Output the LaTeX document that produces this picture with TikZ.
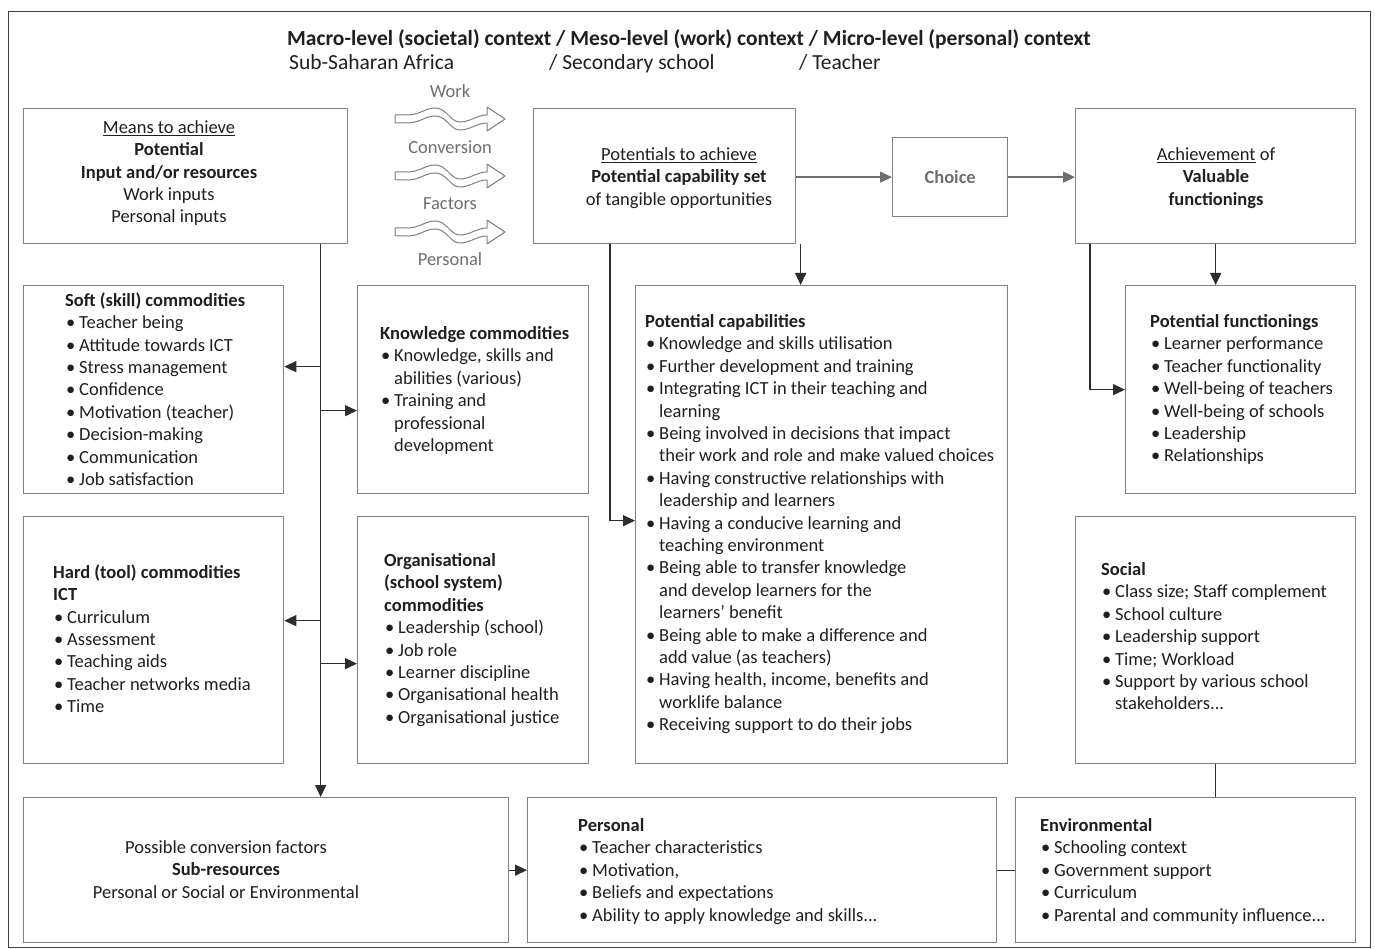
\documentclass[tikz,border=0pt]{standalone}
\usepackage{fontspec}
\setmainfont{Carlito}
\usetikzlibrary{arrows.meta,calc}
\definecolor{boxgray}{RGB}{128,128,128}
\definecolor{linegray}{RGB}{45,45,45}
\definecolor{softgray}{RGB}{110,110,110}
\newcommand\bl{\makebox[14pt][l]{\hspace{1pt}•}}
\newcommand\ct{\hspace*{14pt}}

\begin{document}
\begin{tikzpicture}[x=1pt,y=-1pt,
		box/.style={draw=boxgray,line width=1.3pt,anchor=north west,inner sep=0pt},
		txt/.style={anchor=north west,align=left,inner sep=0pt,font=\fontsize{18.5}{22.4}\selectfont,
			text=black!88,execute at begin node=\strut,yshift=-3.5pt},
		ctxt/.style={txt,anchor=north,align=center},
		lbl/.style={anchor=base,inner sep=0pt,font=\fontsize{18.5}{22.4}\selectfont,text=softgray},
		con/.style={draw=linegray,line width=1.3pt,-{Triangle[length=12pt,width=11pt]}},
		gcon/.style={con,draw=softgray,-{Triangle[length=12pt,width=11pt,fill=softgray]}},
		plain/.style={draw=linegray,line width=1.3pt},
		wave/.pic={\draw[boxgray,line width=1pt,fill=white,line join=round]
			(0,-4) -- (12,-4) .. controls (25,-4) and (30,-11) .. (40,-11)
			.. controls (52,-11) and (55,3) .. (65,3) .. controls (75,3) and (82,-4) .. (92,-4)
			-- (92,-12) -- (110,0) -- (92,12) -- (92,4)
			.. controls (82,4) and (75,11) .. (65,11) .. controls (55,11) and (52,-3) .. (40,-3)
			.. controls (30,-3) and (25,4) .. (12,4) -- (0,4) -- cycle;},
	]
	\useasboundingbox (0,0) rectangle (1375,949);
	\node[draw=black!75,line width=1.3pt,anchor=north west,inner sep=0pt,
		minimum width=1362pt,minimum height=936pt] (frame) at (8,11) {};

	% context heading
	\node[anchor=base,inner sep=0pt,font=\fontsize{21.5}{24}\bfseries,text=black!88] (ctx) at (689,45.5)
		{Macro-level (societal) context / Meso-level (work) context / Micro-level (personal) context};
	\node[anchor=base west,inner sep=0pt,font=\fontsize{21.5}{24}\selectfont,text=black!88] (ctxb) at (289,69.5)
		{\makebox[260pt][l]{Sub-Saharan Africa}\makebox[250pt][l]{/ Secondary school}/ Teacher};

	% boxes
	\node[box,minimum width=324pt,minimum height=135pt] (means) at (23,108) {};
	\node[box,minimum width=262pt,minimum height=135pt] (pot) at (533,108) {};
	\node[box,minimum width=115pt,minimum height=79pt] (choice) at (892,137) {};
	\node[box,minimum width=280pt,minimum height=135pt] (ach) at (1075,108) {};
	\node[box,minimum width=260pt,minimum height=208pt] (soft) at (23,285) {};
	\node[box,minimum width=231pt,minimum height=208pt] (know) at (357,285) {};
	\node[box,minimum width=372pt,minimum height=478pt] (caps) at (635,285) {};
	\node[box,minimum width=230pt,minimum height=208pt] (func) at (1125,285) {};
	\node[box,minimum width=260pt,minimum height=247pt] (hard) at (23,516) {};
	\node[box,minimum width=231pt,minimum height=247pt] (org) at (357,516) {};
	\node[box,minimum width=280pt,minimum height=247pt] (social) at (1075,516) {};
	\node[box,minimum width=485pt,minimum height=145pt] (conv) at (23,797) {};
	\node[box,minimum width=469pt,minimum height=145pt] (pers) at (527,797) {};
	\node[box,minimum width=340pt,minimum height=145pt] (env) at (1015,797) {};

	% work conversion factors
	\foreach \y/\name in {92/Work,148/Conversion,204/Factors,260/Personal}
		\node[lbl] (w\name) at (450,\y+6) {\name};
	\foreach \y in {119,176,232}
		\pic at (395,\y) {wave};

	% texts
	\node[ctxt] (meanstxt) at (169,116.8) {\underline{Means to achieve}\\\textbf{Potential}\\
		\textbf{Input and/or resources}\\Work inputs\\Personal inputs};
	\node[ctxt] (pottxt) at (679,143.8) {\underline{Potentials to achieve}\\
		\textbf{Potential capability set}\\of tangible opportunities};
	\node[lbl,anchor=center,font=\fontsize{18.5}{22.4}\bfseries] (choicetxt) at (choice) {Choice};
	\node[ctxt] (achtxt) at (1216,143.8) {\underline{Achievement} of\\\textbf{Valuable}\\\textbf{functionings}};
	\node[txt] (softtxt) at (65,288.8) {\textbf{Soft (skill) commodities}\\\bl Teacher being\\
		\bl Attitude towards ICT\\\bl Stress management\\\bl Confidence\\\bl Motivation (teacher)\\
		\bl Decision-making\\\bl Communication\\\bl Job satisfaction};
	\node[txt] (knowtxt) at (380,322.8) {\textbf{Knowledge commodities}\\\bl Knowledge, skills and\\
		\ct abilities (various)\\\bl Training and\\\ct professional\\\ct development};
	\node[txt] (capstxt) at (645,310.8) {\textbf{Potential capabilities}\\
		\bl Knowledge and skills utilisation\\\bl Further development and training\\
		\bl Integrating ICT in their teaching and\\\ct learning\\
		\bl Being involved in decisions that impact\\\ct their work and role and make valued choices\\
		\bl Having constructive relationships with\\\ct leadership and learners\\
		\bl Having a conducive learning and\\\ct teaching environment\\
		\bl Being able to transfer knowledge\\\ct and develop learners for the\\\ct learners' benefit\\
		\bl Being able to make a difference and\\\ct add value (as teachers)\\
		\bl Having health, income, benefits and\\\ct worklife balance\\
		\bl Receiving support to do their jobs};
	\node[txt] (functxt) at (1150,310.8) {\textbf{Potential functionings}\\\bl Learner performance\\
		\bl Teacher functionality\\\bl Well-being of teachers\\\bl Well-being of schools\\
		\bl Leadership\\\bl Relationships};
	\node[txt] (hardtxt) at (53,560.8) {\textbf{Hard (tool) commodities}\\\textbf{ICT}\\\bl Curriculum\\
		\bl Assessment\\\bl Teaching aids\\\bl Teacher networks media\\\bl Time};
	\node[txt] (orgtxt) at (384,549.8) {\textbf{Organisational}\\\textbf{(school system)}\\
		\textbf{commodities}\\\bl Leadership (school)\\\bl Job role\\\bl Learner discipline\\
		\bl Organisational health\\\bl Organisational justice};
	\node[txt] (socialtxt) at (1101,558.8) {\textbf{Social}\\\bl Class size; Staff complement\\
		\bl School culture\\\bl Leadership support\\\bl Time; Workload\\
		\bl Support by various school\\\ct stakeholders...};
	\node[ctxt] (convtxt) at (226,836.8) {Possible conversion factors\\\textbf{Sub-resources}\\
		Personal or Social or Environmental};
	\node[txt] (perstxt) at (578,814.8) {\textbf{Personal}\\\bl Teacher characteristics\\
		\bl Motivation,\\\bl Beliefs and expectations\\\bl Ability to apply knowledge and skills...};
	\node[txt] (envtxt) at (1040,814.8) {\textbf{Environmental}\\\bl Schooling context\\
		\bl Government support\\\bl Curriculum\\\bl Parental and community influence...};

	% connectors
	\coordinate (trunk) at ($(means.south)+(135,0)$);
	\draw[con] (trunk) -- (trunk |- conv.north);
	\coordinate (a1) at ($(soft.east)+(0,-23)$);
	\coordinate (a2) at ($(know.west)+(0,21)$);
	\coordinate (a3) at ($(hard.east)+(0,-19.5)$);
	\coordinate (a4) at ($(org.west)+(0,23.5)$);
	\draw[con] (a1 -| trunk) -- (a1);
	\draw[con] (a2 -| trunk) -- (a2);
	\draw[con] (a3 -| trunk) -- (a3);
	\draw[con] (a4 -| trunk) -- (a4);

	\coordinate (p1) at ($(caps.north)+(-21,0)$);
	\draw[con] (p1 |- pot.south) -- (p1);
	\coordinate (p2) at ($(caps.west)+(0,-4)$);
	\coordinate (p3) at ($(pot.south west)+(77,0)$);
	\draw[con] (p3) |- (p2);
	\draw[gcon] (pot.east |- choice.west) -- (choice.west);
	\draw[gcon] (choice.east) -- (choice.east -| ach.west);

	\draw[con] (ach.south) -- (ach.south |- func.north);
	\coordinate (h1) at ($(ach.south west)+(15,0)$);
	\draw[con] (h1) |- (func.west);

	\draw[plain] (social.south) -- (social.south |- env.north);
	\draw[con] (conv.east) -- (pers.west);
	\draw[plain] (pers.east) -- (env.west);
\end{tikzpicture}
\end{document}
